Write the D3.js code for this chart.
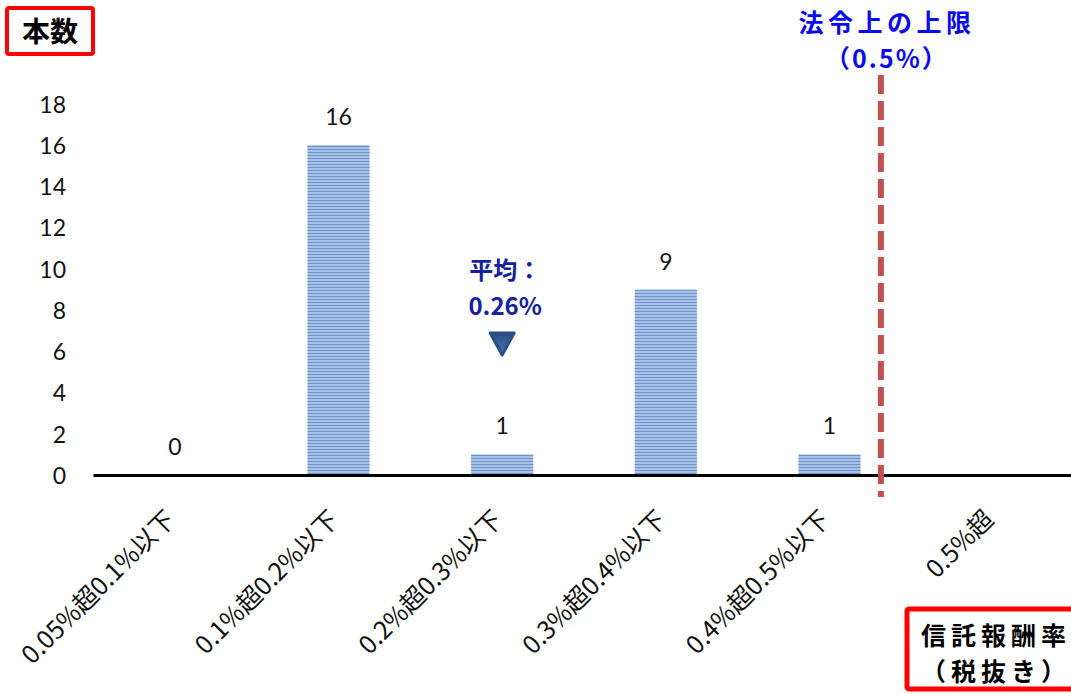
<!DOCTYPE html>
<html>
<head>
<meta charset="utf-8">
<script src="https://cdn.jsdelivr.net/npm/d3@7"></script>
<style>
  body { margin: 0; background: #fff; }
  text { font-family: "Noto Sans CJK JP", sans-serif; }
  .num { font-family: "Lato", "Noto Sans", sans-serif; }
</style>
</head>
<body>
<script>
// categories (fee ranges) and fund counts
var categories = ["0.05%超0.1%以下", "0.1%超0.2%以下", "0.2%超0.3%以下", "0.3%超0.4%以下", "0.4%超0.5%以下", "0.5%超"];
var counts = [0, 16, 1, 9, 1, null];
var yTicks = [0, 2, 4, 6, 8, 10, 12, 14, 16, 18];
var averageText = ["平均：", "0.26%"];
var limitText = ["法令上の上限", "（0.5%）"];
var yTitle = "本数";
var xTitle = ["信託報酬率", "（税抜き）"];

var width = 1071, height = 694;
var margin = {left: 93, right: -4, top: 104, bottom: 219};

var svg = d3.select("body").append("svg").attr("width", width).attr("height", height);

var defs = svg.append("defs");
var pat = defs.append("pattern").attr("id", "stripes")
    .attr("patternUnits", "userSpaceOnUse").attr("width", 6).attr("height", 3);
pat.append("rect").attr("width", 6).attr("height", 3).attr("fill", "#a7c2e6");
pat.append("rect").attr("y", 2).attr("width", 6).attr("height", 1).attr("fill", "#6b94cc");

var grad = defs.append("linearGradient").attr("id", "tri").attr("x1", 0).attr("y1", 0).attr("x2", 0).attr("y2", 1);
grad.append("stop").attr("offset", "0%").attr("stop-color", "#2a4f88");
grad.append("stop").attr("offset", "100%").attr("stop-color", "#4a74b0");

var x = d3.scaleBand().domain(categories)
    .range([margin.left, width - margin.right]).paddingInner(0.62).paddingOuter(0.31);
var y = d3.scaleLinear().domain([0, 18]).range([height - margin.bottom, margin.top]);

// y axis labels (no axis line)
var yAxis = d3.axisLeft(y).tickValues(yTicks).tickSize(0).tickPadding(0);
var yg = svg.append("g").attr("transform", "translate(66,0)").call(yAxis);
yg.select(".domain").remove();
yg.selectAll("text").attr("class", "num").attr("font-size", 23).attr("fill", "#111")
  .attr("dy", "0.36em");

// bars
var data = categories.map(function(c, i) { return {cat: c, v: counts[i]}; });
svg.selectAll("rect.bar").data(data.filter(function(d) { return d.v !== null; }))
  .enter().append("rect").attr("class", "bar")
  .attr("x", function(d) { return x(d.cat); })
  .attr("width", x.bandwidth())
  .attr("y", function(d) { return y(d.v); })
  .attr("height", function(d) { return y(0) - y(d.v); })
  .attr("fill", "url(#stripes)");

// value labels
svg.selectAll("text.val").data(data.filter(function(d) { return d.v !== null; }))
  .enter().append("text").attr("class", "num")
  .attr("x", function(d) { return x(d.cat) + x.bandwidth() / 2; })
  .attr("y", function(d) { return y(d.v) - 20; })
  .attr("text-anchor", "middle").attr("font-size", 23).attr("fill", "#111")
  .text(function(d) { return d.v; });

// x axis
var xAxis = d3.axisBottom(x).tickSize(0).tickPadding(0);
var xg = svg.append("g").attr("transform", "translate(0," + y(0) + ")").call(xAxis);
xg.select(".domain").attr("stroke", "#000").attr("stroke-width", 3);
xg.selectAll("text")
  .attr("font-size", 25).attr("fill", "#111")
  .attr("text-anchor", "end")
  .attr("dy", null).attr("y", 0)
  .attr("transform", "translate(2,46) rotate(-45)")
  .style("font-family", "'Noto Sans CJK JP', sans-serif");

// limit line at 0.5%
var limitX = x(categories[4]) + x.bandwidth() + (x.step() - x.bandwidth()) * 0.2;
svg.append("line").attr("x1", limitX).attr("x2", limitX)
  .attr("y1", 75).attr("y2", 497)
  .attr("stroke", "#c0504d").attr("stroke-width", 6).attr("stroke-dasharray", "19,7");

svg.selectAll("text.limit").data(limitText).enter().append("text")
  .attr("x", limitX + 6).attr("y", function(d, i) { return 32 + i * 36; })
  .attr("text-anchor", "middle").attr("font-size", 25)
  .attr("letter-spacing", function(d, i) { return i ? 2 : 4.5; })
  .attr("font-weight", "bold")
  .attr("fill", "#0a0af0").text(function(d) { return d; });

// average marker
var avgX = x(categories[2]) + x.bandwidth() / 2;
svg.selectAll("text.avg").data(averageText).enter().append("text")
  .attr("x", avgX + 3).attr("y", function(d, i) { return 279 + i * 36; })
  .attr("text-anchor", "middle").attr("font-size", 24).attr("font-weight", "bold")
  .attr("fill", "#14229c").text(function(d) { return d; });
svg.append("path")
  .attr("d", "M" + (avgX - 12) + ",333 L" + (avgX + 12) + ",333 L" + avgX + ",355 Z")
  .attr("fill", "url(#tri)").attr("stroke", "#2a4f88").attr("stroke-width", 3)
  .attr("stroke-linejoin", "round");

// y title box
svg.append("rect").attr("x", 7).attr("y", 8).attr("width", 86).attr("height", 46)
  .attr("fill", "none").attr("stroke", "#ff0000").attr("stroke-width", 4).attr("rx", 2);
svg.append("text").attr("x", 50).attr("y", 42).attr("text-anchor", "middle")
  .attr("font-size", 28).attr("font-weight", "bold").attr("fill", "#000").text(yTitle);

// x title box
svg.append("rect").attr("x", 907).attr("y", 609).attr("width", 170).attr("height", 80)
  .attr("fill", "none").attr("stroke", "#ff0000").attr("stroke-width", 5).attr("rx", 2);
svg.selectAll("text.xt").data(xTitle).enter().append("text")
  .attr("x", 996).attr("y", function(d, i) { return 645 + i * 36; })
  .attr("text-anchor", "middle").attr("font-size", 25).attr("letter-spacing", 5)
  .attr("font-weight", "bold")
  .attr("fill", "#000").text(function(d) { return d; });
</script>
</body>
</html>
